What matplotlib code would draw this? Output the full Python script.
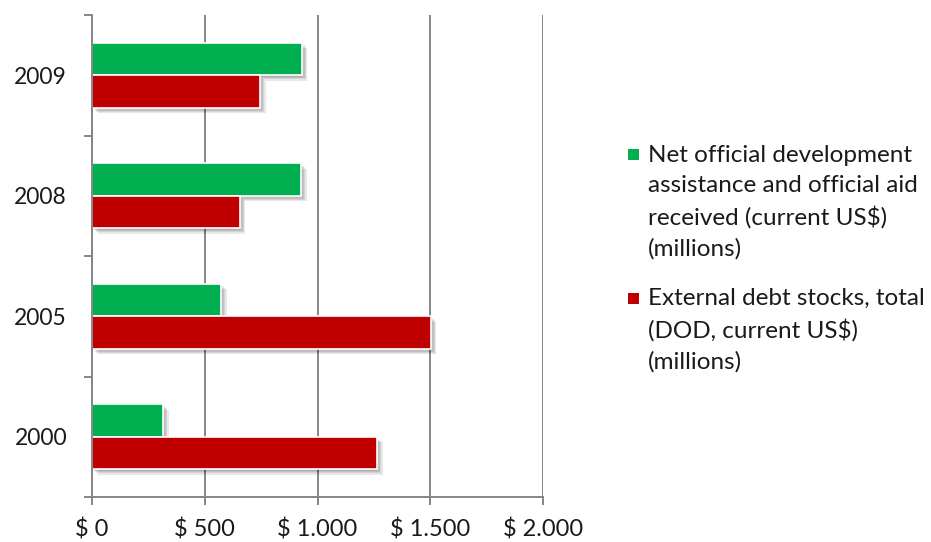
import matplotlib
matplotlib.use("Agg")
import matplotlib.pyplot as plt
import matplotlib.patheffects as pe
from matplotlib.patches import Rectangle
import numpy as np

plt.rcParams["font.family"] = ["Lato", "DejaVu Sans"]

years = ["2000", "2005", "2008", "2009"]
oda = [315, 572, 927, 931]
debt = [1264, 1503, 656, 745]
oda_label = "Net official development\nassistance and official aid\nreceived (current US$)\n(millions)"
debt_label = "External debt stocks, total\n(DOD, current US$)\n(millions)"
xticks = [0, 500, 1000, 1500, 2000]
xtick_labels = ["$ 0", "$ 500", "$ 1.000", "$ 1.500", "$ 2.000"]

green = "#00B050"
red = "#C00000"
grey = "#868686"
ink = "#1a1a1a"

fig = plt.figure(figsize=(9.31, 5.42), dpi=100)
ax = fig.add_axes([92 / 931, 1 - 497 / 542, 451 / 931, 482 / 542])

y = np.arange(len(years))
h = 0.27
# soft drop shadow built from a few faint offset copies
shadow = [pe.SimplePatchShadow(offset=(o, -o), shadow_rgbFace="black", alpha=0.09)
          for o in (1, 2, 3, 4)] + [pe.Normal()]
ax.barh(y + h / 2, oda, height=h, color=green, edgecolor="white", linewidth=1.2,
        path_effects=shadow, zorder=3)
ax.barh(y - h / 2, debt, height=h, color=red, edgecolor="white", linewidth=1.2,
        path_effects=shadow, zorder=3)

ax.set_xlim(0, 2000)
ax.set_ylim(-0.5, len(years) - 0.5)
ax.set_xticks(xticks)
ax.set_xticklabels(xtick_labels)
ax.set_yticks(y)
ax.set_yticklabels(years)
ax.set_yticks(np.arange(-0.5, len(years)), minor=True)

ax.grid(axis="x", color=grey, linewidth=1.4, zorder=0)
for side in ["top", "right"]:
    ax.spines[side].set_visible(False)
for side in ["left", "bottom"]:
    ax.spines[side].set_color(grey)
    ax.spines[side].set_linewidth(1.4)
    ax.spines[side].set_zorder(4)

ax.tick_params(axis="y", which="major", length=0, pad=18, labelsize=16.5, labelcolor=ink)
ax.tick_params(axis="y", which="minor", length=5.5, width=1.4, color=grey)
ax.tick_params(axis="x", which="major", length=5.5, width=1.4, color=grey, pad=10,
               labelsize=17, labelcolor=ink)

# legend drawn by hand so the square sits on the first text line
def legend_entry(x, y_mid, color, text):
    fig.patches.append(Rectangle((x / 931, 1 - (y_mid + 5.5) / 542), 11 / 931, 11 / 542,
                                 transform=fig.transFigure, facecolor=color, edgecolor="none"))
    fig.text((x + 20) / 931, 1 - (y_mid - 10) / 542, text, ha="left", va="top",
             fontsize=17.5, color=ink, linespacing=1.53)

legend_entry(628, 155, green, oda_label)
legend_entry(628, 298, red, debt_label)

fig.savefig("out.png", dpi=100)
